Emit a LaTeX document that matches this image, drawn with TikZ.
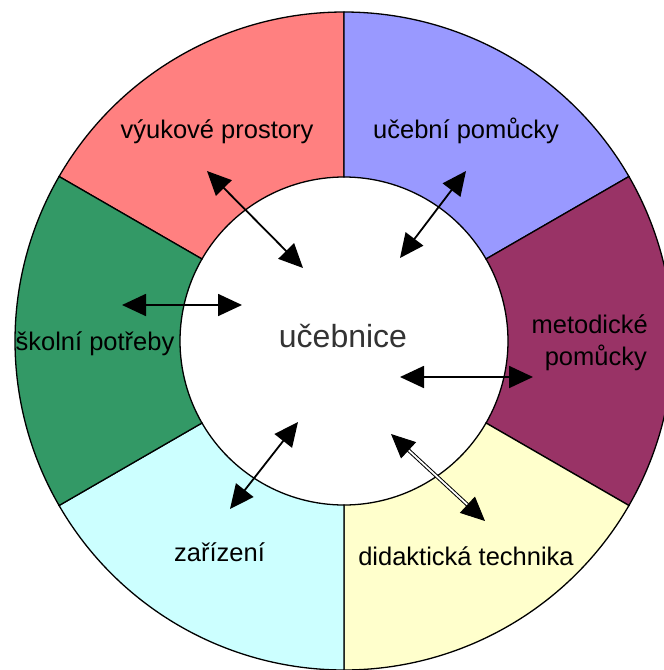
\documentclass[tikz,border=0pt]{standalone}
\usepackage{fontspec}
\setmainfont{Liberation Sans}
\usetikzlibrary{arrows.meta}
\definecolor{secred}{HTML}{FF8080}
\definecolor{secblue}{HTML}{9999FF}
\definecolor{secmaroon}{HTML}{993366}
\definecolor{secyellow}{HTML}{FFFFCC}
\definecolor{seccyan}{HTML}{CCFFFF}
\definecolor{secgreen}{HTML}{339966}
\definecolor{centertext}{HTML}{333333}
\begin{document}
\begin{tikzpicture}[x=1pt,y=-1pt,
  sector/.style={draw=black,line width=1.3pt},
  link/.style={line width=1.8pt,{Triangle[length=24pt,width=22pt]}-{Triangle[length=24pt,width=22pt]}},
  dlink/.style={double,double distance=1.8pt,line width=1pt,{Triangle[length=24pt,width=22pt]}-{Triangle[length=24pt,width=22pt]}},
  lbl/.style={font=\fontsize{25.5}{30}\selectfont,inner sep=0pt,text=black}]
\useasboundingbox (0,0) rectangle (664,670);
\clip (0,0) rectangle (664,670);
\fill[white] (0,0) rectangle (664,670);
\begin{scope}[shift={(344,341)},yscale=-1]
  \foreach \a/\b/\col in {90/150/secred, 30/90/secblue, -30/30/secmaroon, -90/-30/secyellow, -150/-90/seccyan, 150/210/secgreen}{
    \filldraw[sector,fill=\col] (\a:164) -- (\a:329) arc[start angle=\a,end angle=\b,radius=329] -- (\b:164) arc[start angle=\b,end angle=\a,radius=164] -- cycle;
  }
\end{scope}
% labels
\node[lbl,anchor=base] (vyuk) at (217,138) {výukové prostory};
\node[lbl,anchor=base] (uceb) at (466,138) {učební pomůcky};
\node[lbl,anchor=base] (skol) at (95,350) {školní potřeby};
\node[lbl,anchor=base east] (meto1) at (648,333) {metodické};
\node[lbl,anchor=base east] (meto2) at (647,365) {pomůcky};
\node[lbl,anchor=base] (zari) at (219.5,561) {zařízení};
\node[lbl,anchor=base] (dida) at (466,565) {didaktická technika};
\node[font=\fontsize{32}{38}\selectfont,text=centertext,inner sep=0pt,anchor=base] (center) at (343,347) {učebnice};
% arrow end points
\coordinate (a1o) at (207,171); \coordinate (a1i) at (303,268);
\coordinate (a2o) at (466,171); \coordinate (a2i) at (400,258);
\coordinate (a3o) at (122,305); \coordinate (a3i) at (242,305);
\coordinate (a4i) at (400,377); \coordinate (a4o) at (533,377);
\coordinate (a5i) at (298,422); \coordinate (a5o) at (230,509);
\coordinate (a6i) at (391,434); \coordinate (a6o) at (485,521);
\draw[link] (a1o) -- (a1i);
\draw[link] (a2o) -- (a2i);
\draw[link] (a3o) -- (a3i);
\draw[link] (a4i) -- (a4o);
\draw[link] (a5i) -- (a5o);
\draw[dlink] (a6i) -- (a6o);
\end{tikzpicture}
\end{document}
